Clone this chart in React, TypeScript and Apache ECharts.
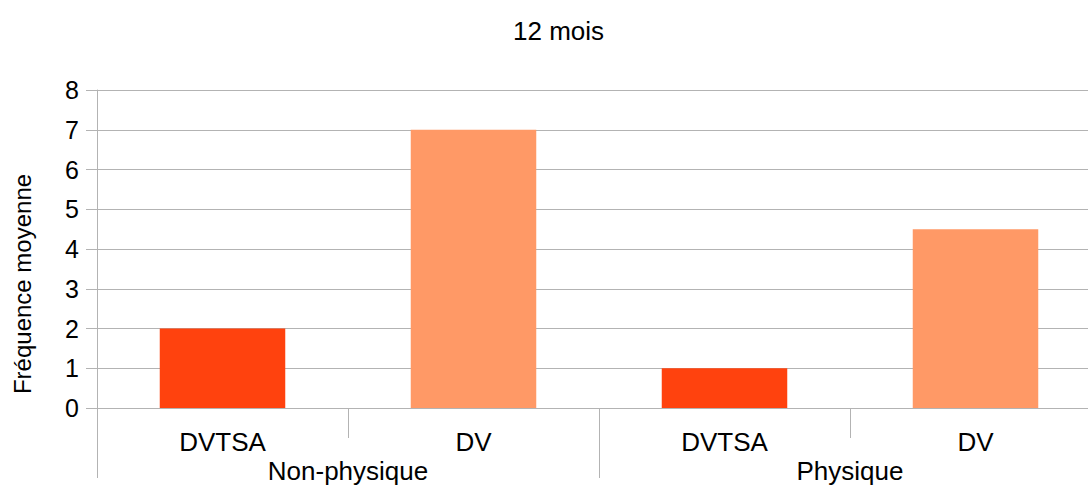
import React, { useEffect, useRef } from "react";
import * as echarts from "echarts";

const title = "12 mois";
const categories = ["DVTSA", "DV", "DVTSA", "DV"];
const groups = ["Non-physique", "Physique"];
const values = [2, 7, 1, 4.5];
const barColors = ["#FF420E", "#FF9966", "#FF420E", "#FF9966"];
const yName = "Fréquence moyenne";

export default function App() {
  const ref = useRef<HTMLDivElement>(null);
  useEffect(() => {
    if (!ref.current) return;
    const chart = echarts.init(ref.current, null, { renderer: "svg" });
    const font = "Liberation Sans, Arial, sans-serif";
    chart.setOption({
      animation: false,
      textStyle: { fontFamily: font },
      title: {
        text: title,
        left: 508,
        top: 13,
        textStyle: { fontSize: 26, fontWeight: "normal", color: "#000", fontFamily: font },
      },
      graphic: [
        {
          type: "text",
          x: 22,
          y: 284,
          rotation: Math.PI / 2,
          style: {
            text: yName,
            fontSize: 24,
            fontFamily: font,
            fill: "#000",
            align: "center",
            verticalAlign: "middle",
          },
        },
      ],
      grid: { left: 97, right: -13, top: 90, bottom: 78, containLabel: false, outerBoundsMode: "none" },
      xAxis: [
        {
          type: "category",
          data: categories,
          position: "bottom",
          axisLine: { show: true, lineStyle: { color: "#b3b3b3" } },
          axisTick: { show: true, interval: 0, length: 30, lineStyle: { color: "#b3b3b3" } },
          axisLabel: { interval: 0, fontSize: 26, color: "#000", margin: 21, fontFamily: font },
        },
        {
          type: "category",
          data: groups,
          position: "bottom",
          axisLine: { show: false },
          axisTick: { show: true, interval: 0, length: 70, lineStyle: { color: "#b3b3b3" } },
          axisLabel: { interval: 0, fontSize: 26, color: "#000", margin: 50, fontFamily: font },
        },
      ],
      yAxis: {
        type: "value",
        min: 0,
        max: 8,
        interval: 1,
        axisLine: { show: true, lineStyle: { color: "#b3b3b3" } },
        axisTick: { show: true, length: 11, lineStyle: { color: "#b3b3b3" } },
        axisLabel: { fontSize: 25, color: "#000", margin: 18, fontFamily: font },
        splitLine: { show: true, lineStyle: { color: "#b3b3b3" } },
      },
      series: [
        {
          type: "bar",
          xAxisIndex: 0,
          barWidth: "50%",
          data: values.map((v, i) => ({ value: v, itemStyle: { color: barColors[i] } })),
        },
      ],
    });
    return () => chart.dispose();
  }, []);
  return <div ref={ref} style={{ width: 1088, height: 486, position: "absolute", left: 0, top: 0 }} />;
}
